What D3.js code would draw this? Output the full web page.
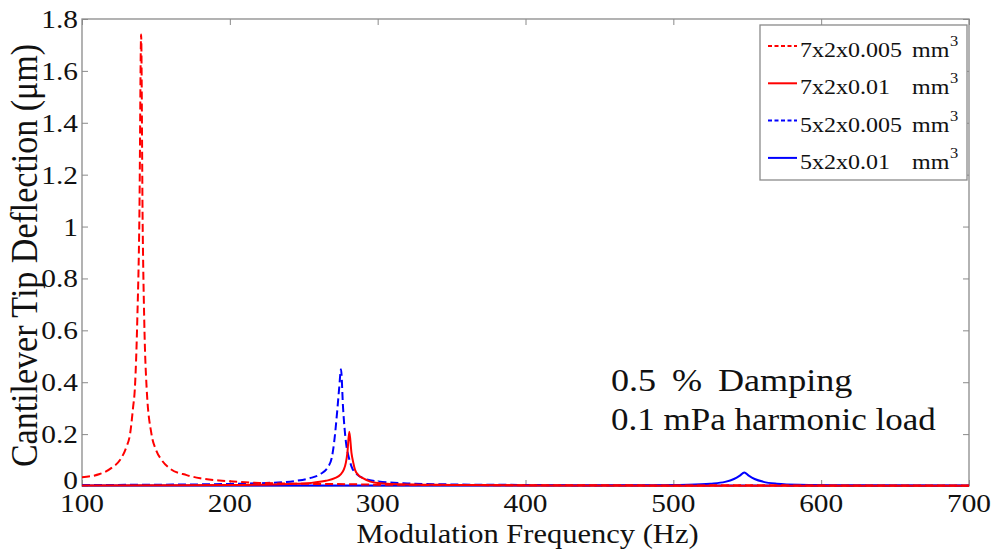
<!DOCTYPE html>
<html><head><meta charset="utf-8">
<script src="https://cdn.jsdelivr.net/npm/d3@7/dist/d3.min.js"></script>
<style>body{margin:0;background:#fff}svg{display:block}text{font-family:"Liberation Serif","Times New Roman",Times,serif;fill:#111}</style>
</head><body><svg id="c" width="992" height="550"></svg>
<script>
// ---- data ----
const xTicks = [100,200,300,400,500,600,700];
const yTicks = [0,0.2,0.4,0.6,0.8,1,1.2,1.4,1.6,1.8];
const seriesNames = ["7x2x0.005","7x2x0.01","5x2x0.005","5x2x0.01"];
const seriesColors = ["#ff0000","#ff0000","#0000ff","#0000ff"];
const seriesDashed = [true,false,true,false];

const rdF = [100,112,120,125.7,130,132.5,134.5,135.8,137.4,138.8,140,141,142.1,143.7,147,150,153.9,160,170.8,180,193,200,220,240,260,280,300,350,400,450,500,550,600,650,700];
const rdV = [0.034,0.046,0.07,0.10,0.15,0.20,0.30,0.38,0.64,1.03,1.74,1.03,0.64,0.38,0.20,0.14,0.10,0.065,0.042,0.03,0.021,0.018,0.012,0.009,0.008,0.007,0.005,0.004,0.003,0.003,0.002,0.003,0.002,0.002,0.002];

const rsF = [100,200,240,255,265,271,275,277,278.5,279.5,280.8,282.3,283.5,284.7,287,290,295,300,320,350,400,500,700];
const rsV = [0.002,0.004,0.008,0.012,0.02,0.03,0.045,0.062,0.09,0.127,0.209,0.127,0.09,0.062,0.042,0.03,0.017,0.012,0.006,0.004,0.002,0.001,0.001];

const bdF = [100,150,200,230,245,254,261,266.5,269,270.5,272.7,274,275.2,276.6,278.6,280.5,282.4,286,290.3,300,320,350,400,450,500,550,600,650,700];
const bdV = [0.004,0.005,0.008,0.013,0.02,0.03,0.045,0.074,0.11,0.166,0.293,0.38,0.45,0.30,0.166,0.11,0.074,0.045,0.03,0.018,0.01,0.006,0.004,0.002,0.002,0.002,0.001,0.001,0.001];

const bsF = [100,300,400,480,510,525,535,541,545,548,551,555,561,570,585,620,700];
const bsV = [0.002,0.002,0.002,0.003,0.005,0.009,0.016,0.027,0.040,0.052,0.040,0.027,0.016,0.009,0.005,0.003,0.002];

const series = [
  {f: rdF, v: rdV}, {f: rsF, v: rsV}, {f: bdF, v: bdV}, {f: bsF, v: bsV}
];

// ---- layout ----
const W = 992, H = 550;
const L = 82, R = 969, T = 19, B = 486;
const SX = 1.13; // horizontal text stretch seen in the reference
const svg = d3.select("#c").attr("font-family","Liberation Serif, Times New Roman, serif");
svg.append("rect").attr("width",W).attr("height",H).attr("fill","#fff");

const x = d3.scaleLinear().domain([100,700]).range([L,R]);
const y = d3.scaleLinear().domain([0,1.8]).range([B,T]);

const frame = "#8a8a8a";
svg.append("rect").attr("x",L).attr("y",T).attr("width",R-L).attr("height",B-T)
  .attr("fill","none").attr("stroke",frame).attr("stroke-width",1.3);

const tl = 6;
const gB = svg.append("g").attr("transform",`translate(0,${B})`)
  .call(d3.axisBottom(x).tickValues(xTicks).tickSize(-tl).tickFormat(""));
const gT = svg.append("g").attr("transform",`translate(0,${T})`)
  .call(d3.axisTop(x).tickValues(xTicks).tickSize(-tl).tickFormat(""));
const gL = svg.append("g").attr("transform",`translate(${L},0)`)
  .call(d3.axisLeft(y).tickValues(yTicks).tickSize(-tl).tickFormat(""));
const gR = svg.append("g").attr("transform",`translate(${R},0)`)
  .call(d3.axisRight(y).tickValues(yTicks).tickSize(-tl).tickFormat(""));
[gB,gT,gL,gR].forEach(g=>{g.select(".domain").remove();g.selectAll("line").attr("stroke",frame);});

// tick labels
svg.append("g").selectAll("text").data(xTicks).join("text")
  .attr("transform",d=>`translate(${x(d)},${B+26}) scale(${SX},1)`)
  .attr("text-anchor","middle").attr("font-size",26).text(d=>d);
svg.append("g").selectAll("text").data(yTicks).join("text")
  .attr("transform",d=>`translate(${L-4},${y(d)+(d===0?3:9)}) scale(${SX},1)`)
  .attr("text-anchor","end").attr("font-size",26).text(d=>d3.format("~g")(d));

// axis titles
svg.append("text").attr("transform",`translate(${(L+R)/2+2},${H-7}) scale(${SX},1)`)
  .attr("text-anchor","middle").attr("font-size",27).text("Modulation Frequency (Hz)");
svg.append("text").attr("transform",`translate(37,${(T+B)/2+3}) scale(${SX},1) rotate(-90)`)
  .attr("text-anchor","middle").attr("font-size",34).text("Cantilever Tip Deflection (μm)");

// lines
const line = d3.line().x(d=>x(d[0])).y(d=>y(d[1])).curve(d3.curveMonotoneX);
const plot = svg.append("g");
[3,2,1,0].forEach(i=>{
  const s = series[i];
  plot.append("path").datum(s.f.map((f,j)=>[f,s.v[j]]))
    .attr("d",line).attr("fill","none").attr("stroke",seriesColors[i])
    .attr("stroke-width",2).attr("stroke-dasharray",seriesDashed[i]?"8,4":null);
});

// annotation
svg.append("text").attr("transform",`translate(611,391) scale(${SX},1)`).attr("font-size",32).attr("word-spacing",6).text("0.5 % Damping");
svg.append("text").attr("transform",`translate(611,430) scale(${SX},1)`).attr("font-size",31).text("0.1 mPa harmonic load");

// legend
const lg = svg.append("g");
lg.append("rect").attr("x",760).attr("y",25).attr("width",207).attr("height",155)
  .attr("fill","#fff").attr("stroke",frame).attr("stroke-width",1.3);
seriesNames.forEach((n,i)=>{
  const by = 57 + i*37.3;
  lg.append("line").attr("x1",768).attr("x2",797).attr("y1",by-11).attr("y2",by-11)
    .attr("stroke",seriesColors[i]).attr("stroke-width",2)
    .attr("stroke-dasharray",seriesDashed[i]?"4,2.5":null);
  lg.append("text").attr("transform",`translate(800,${by}) scale(1.17,1)`).attr("font-size",20.5).text(n);
  lg.append("text").attr("transform",`translate(912,${by}) scale(1.17,1)`).attr("font-size",20.5).text("mm");
  lg.append("text").attr("transform",`translate(950,${by-11}) scale(1.1,1)`).attr("font-size",15).text("3");
});
</script></body></html>
